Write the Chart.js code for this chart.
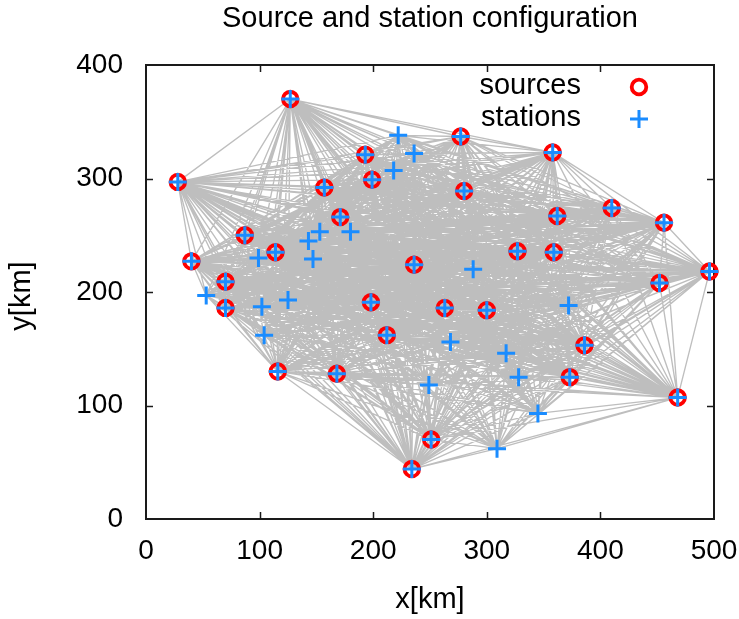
<!DOCTYPE html>
<html>
<head>
<meta charset="utf-8">
<script src="https://cdn.jsdelivr.net/npm/chart.js@4/dist/chart.umd.min.js"></script>
<style>
  html, body { margin: 0; padding: 0; background: #ffffff; }
  #c { display: block; }
</style>
</head>
<body>
<canvas id="c" width="739" height="619"></canvas>
<script>
// Source epicentres [km]
const sourceX = [127, 28, 193, 277, 358, 157, 199, 280, 171, 362, 410,
                 456, 87, 114, 40, 236, 327, 359, 496, 70, 70, 198,
                 263, 300, 212, 452, 116, 168, 386, 373, 468, 251, 234];
const sourceY = [370, 297, 321, 337, 323, 292, 299, 289, 266, 267, 274,
                 261, 250, 235, 227, 224, 236, 235, 218, 209, 186, 191,
                 186, 184, 162, 208, 130, 128, 153, 125, 107, 70, 44];

// Receiver stations [km]: one at every source site plus the extra ones
const stationX = [127, 28, 193, 277, 358, 157, 199, 280, 171, 362, 410,
                  456, 87, 114, 40, 236, 327, 359, 496, 70, 70, 198,
                  263, 300, 212, 452, 116, 168, 386, 373, 468, 251, 234,
                  222, 236, 218, 180, 153, 143, 147, 99, 53, 102, 125,
                  104, 288, 372, 268, 317, 328, 249, 345, 309];
const stationY = [370, 297, 321, 337, 323, 292, 299, 289, 266, 267, 274,
                  261, 250, 235, 227, 224, 236, 235, 218, 209, 186, 191,
                  186, 184, 162, 208, 130, 128, 153, 125, 107, 70, 44,
                  338, 322, 307, 253, 253, 245, 229, 230, 197, 187, 193,
                  162, 220, 188, 156, 146, 125, 118, 93, 62];

const xTicks = [0, 100, 200, 300, 400, 500];
const yTicks = [0, 100, 200, 300, 400];

const titleText = 'Source and station configuration';
const xLabel = 'x[km]';
const yLabel = 'y[km] ';
const seriesNames = ['sources', 'stations'];

const FONT = '"Liberation Sans", Arial, Helvetica, sans-serif';
const RED = '#ff0000';
const BLUE = '#1a8cff';
const GREY = '#bebebe';

// Straight ray paths: every source joined to every station (NaN breaks the polyline)
const rays = [];
for (let i = 0; i < sourceX.length; i++) {
  for (let j = 0; j < stationX.length; j++) {
    if (sourceX[i] === stationX[j] && sourceY[i] === stationY[j]) continue;
    rays.push({x: sourceX[i], y: sourceY[i]});
    rays.push({x: stationX[j], y: stationY[j]});
    rays.push({x: NaN, y: NaN});
  }
}
const sources = sourceX.map((x, i) => ({x, y: sourceY[i]}));
const stations = stationX.map((x, i) => ({x, y: stationY[i]}));

Chart.defaults.font.family = FONT;
Chart.defaults.color = '#000000';

// Plot frame with inward tick marks on all four sides
const framePlugin = {
  id: 'frame',
  beforeDatasetsDraw(chart) {
    const {ctx, chartArea: a, scales} = chart;
    ctx.save();
    ctx.strokeStyle = '#1a1a1a';
    ctx.lineWidth = 2;
    ctx.strokeRect(a.left, a.top, a.right - a.left, a.bottom - a.top);
    ctx.lineWidth = 1.5;
    ctx.beginPath();
    xTicks.slice(1, -1).forEach(v => {
      const px = Math.round(scales.x.getPixelForValue(v)) + 0.5;
      ctx.moveTo(px, a.bottom); ctx.lineTo(px, a.bottom - 7);
      ctx.moveTo(px, a.top); ctx.lineTo(px, a.top + 7);
    });
    yTicks.slice(1, -1).forEach(v => {
      const py = Math.round(scales.y.getPixelForValue(v)) + 0.5;
      ctx.moveTo(a.left, py); ctx.lineTo(a.left + 7, py);
      ctx.moveTo(a.right, py); ctx.lineTo(a.right - 7, py);
    });
    ctx.stroke();
    ctx.restore();
  }
};

// Key in the upper right corner: label first, then the marker
const keyPlugin = {
  id: 'key',
  afterDatasetsDraw(chart) {
    const {ctx, chartArea: a} = chart;
    const rows = [
      {ds: chart.data.datasets[1], y: a.top + 21},
      {ds: chart.data.datasets[2], y: a.top + 53}
    ];
    ctx.save();
    rows.forEach(r => {
      ctx.font = '29px ' + FONT;
      ctx.fillStyle = '#000000';
      ctx.textAlign = 'right';
      ctx.textBaseline = 'middle';
      ctx.fillText(r.ds.label, a.right - 133, r.y);
      ctx.strokeStyle = r.ds.borderColor;
      ctx.fillStyle = 'rgba(0,0,0,0)';
      ctx.lineWidth = r.ds.borderWidth;
      Chart.helpers.drawPoint(ctx, {
        pointStyle: r.ds.pointStyle,
        radius: r.ds.pointRadius,
        borderWidth: r.ds.borderWidth,
        rotation: 0
      }, a.right - 75, r.y + 1);
    });
    ctx.restore();
  }
};

new Chart(document.getElementById('c'), {
  type: 'scatter',
  data: {
    datasets: [
      {
        label: 'rays',
        data: rays,
        showLine: true,
        spanGaps: false,
        borderColor: GREY,
        borderWidth: 1.35,
        pointRadius: 0,
        order: 3
      },
      {
        label: seriesNames[0],
        data: sources,
        pointStyle: 'circle',
        pointRadius: 7.3,
        borderWidth: 3.8,
        borderColor: RED,
        backgroundColor: 'rgba(0,0,0,0)',
        clip: false,
        order: 2
      },
      {
        label: seriesNames[1],
        data: stations,
        pointStyle: 'cross',
        pointRadius: 9,
        borderWidth: 3,
        borderColor: BLUE,
        backgroundColor: BLUE,
        clip: false,
        order: 1
      }
    ]
  },
  options: {
    responsive: false,
    devicePixelRatio: 1,
    animation: false,
    events: [],
    layout: {padding: {left: 0, right: 25, top: 0, bottom: 0}},
    scales: {
      x: {
        type: 'linear',
        min: 0, max: 500,
        afterBuildTicks: s => { s.ticks = xTicks.map(v => ({value: v})); },
        ticks: {font: {size: 28}, padding: 15, maxRotation: 0, autoSkip: false, color: '#000'},
        grid: {display: false, drawTicks: false, tickLength: 0},
        border: {display: false},
        title: {display: true, text: xLabel, font: {size: 29}, color: '#000',
                padding: {top: 0, bottom: 1.6}},
        afterFit: s => { s.height = 100; s.paddingLeft = 0; s.paddingRight = 0; }
      },
      y: {
        type: 'linear',
        min: 0, max: 400,
        afterBuildTicks: s => { s.ticks = yTicks.map(v => ({value: v})); },
        ticks: {font: {size: 28}, padding: 23, autoSkip: false, color: '#000'},
        grid: {display: false, drawTicks: false, tickLength: 0},
        border: {display: false},
        title: {display: true, text: yLabel, font: {size: 29}, color: '#000',
                padding: {top: 5, bottom: 0}},
        afterFit: s => { s.width = 146; s.paddingTop = 0; s.paddingBottom = 0; }
      }
    },
    plugins: {
      legend: {display: false},
      tooltip: {enabled: false},
      title: {
        display: true,
        text: titleText,
        fullSize: false,
        font: {size: 29, weight: 'normal'},
        color: '#000',
        padding: {top: 2, bottom: 28.2}
      }
    }
  },
  plugins: [framePlugin, keyPlugin]
});
</script>
</body>
</html>
